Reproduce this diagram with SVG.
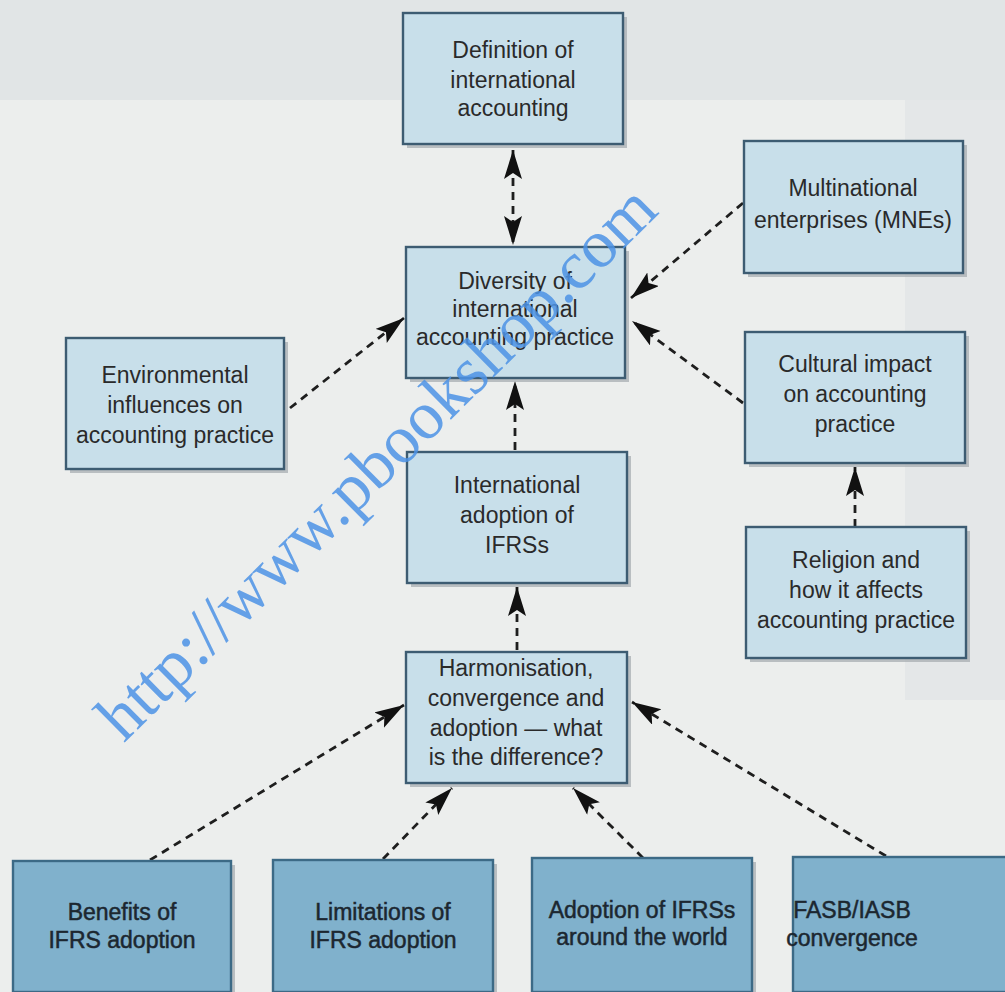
<svg xmlns="http://www.w3.org/2000/svg" width="1005" height="992" viewBox="0 0 1005 992">
<style>
  .bg { fill: #eceeed; }
  .box { fill: #c8dfea; stroke: #3d5c72; stroke-width: 2.4; }
  .dbox { fill: #80b1cc; stroke: #3c6a86; stroke-width: 2.4; }
  .shadow { fill: #a4aaae; opacity: 0.7; }
  .t { font-family: "Liberation Sans", Arial, sans-serif; font-size: 23px; fill: #2a2a2a; text-anchor: middle; }
  .tb { font-family: "Liberation Sans", Arial, sans-serif; font-size: 23px; fill: #1c2730; text-anchor: middle; stroke: #1c2730; stroke-width: 0.5; }
  .c { fill: none; stroke: #1e1e1e; stroke-width: 2.8; stroke-dasharray: 8 6; }
  .wm { font-family: "Liberation Serif", "Times New Roman", serif; font-size: 68px; fill: #4d93e6; opacity: 0.85; }
</style>
<defs>
  <marker id="ah" markerUnits="userSpaceOnUse" markerWidth="32" markerHeight="20" refX="29" refY="9" orient="auto-start-reverse" viewBox="0 0 32 20">
    <path d="M0,0 L29,9 L0,18 L6,9 z" fill="#111"/>
  </marker>
</defs>
<rect class="bg" x="0" y="0" width="1005" height="992"/>
<rect x="0" y="0" width="1005" height="100" fill="#e1e5e6"/>
<rect x="905" y="100" width="100" height="600" fill="#e4e7e8"/>

<g id="connectors">
  <path class="c" d="M513,150 L513,245" marker-start="url(#ah)" marker-end="url(#ah)"/>
  <path class="c" d="M290,408 L404,318" marker-end="url(#ah)"/>
  <path class="c" d="M743,203 L631,298" marker-end="url(#ah)"/>
  <path class="c" d="M743,403 L632,321" marker-end="url(#ah)"/>
  <path class="c" d="M515,450 L515,381" marker-end="url(#ah)"/>
  <path class="c" d="M855,527 L855,467" marker-end="url(#ah)"/>
  <path class="c" d="M517,650 L517,587" marker-end="url(#ah)"/>
  <path class="c" d="M150,860 L404,705" marker-end="url(#ah)"/>
  <path class="c" d="M383,859 L452,788" marker-end="url(#ah)"/>
  <path class="c" d="M643,858 L573,788" marker-end="url(#ah)"/>
  <path class="c" d="M886,856 L632,702" marker-end="url(#ah)"/>
</g>

<g id="node-definition">
  <rect class="shadow" x="407" y="17" width="220" height="131"/>
  <rect class="box" x="403" y="13" width="220" height="131"/>
  <text class="t" x="513" y="58">Definition of</text>
  <text class="t" x="513" y="88">international</text>
  <text class="t" x="513" y="116">accounting</text>
</g>
<g id="node-diversity">
  <rect class="shadow" x="410" y="251" width="219" height="131"/>
  <rect class="box" x="406" y="247" width="219" height="131"/>
  <text class="t" x="515" y="289">Diversity of</text>
  <text class="t" x="515" y="317">international</text>
  <text class="t" x="515" y="345">accounting practice</text>
</g>
<g id="node-environmental">
  <rect class="shadow" x="70" y="342" width="218" height="131"/>
  <rect class="box" x="66" y="338" width="218" height="131"/>
  <text class="t" x="175" y="383">Environmental</text>
  <text class="t" x="175" y="413">influences on</text>
  <text class="t" x="175" y="443">accounting practice</text>
</g>
<g id="node-international-adoption">
  <rect class="shadow" x="411" y="456" width="220" height="131"/>
  <rect class="box" x="407" y="452" width="220" height="131"/>
  <text class="t" x="517" y="493">International</text>
  <text class="t" x="517" y="523">adoption of</text>
  <text class="t" x="517" y="553">IFRSs</text>
</g>
<g id="node-harmonisation">
  <rect class="shadow" x="410" y="656" width="221" height="131"/>
  <rect class="box" x="406" y="652" width="221" height="131"/>
  <text class="t" x="516" y="676">Harmonisation,</text>
  <text class="t" x="516" y="706">convergence and</text>
  <text class="t" x="516" y="736">adoption — what</text>
  <text class="t" x="516" y="765">is the difference?</text>
</g>
<g id="node-mne">
  <rect class="shadow" x="748" y="145" width="219" height="132"/>
  <rect class="box" x="744" y="141" width="219" height="132"/>
  <text class="t" x="853" y="196">Multinational</text>
  <text class="t" x="853" y="228">enterprises (MNEs)</text>
</g>
<g id="node-cultural">
  <rect class="shadow" x="749" y="336" width="220" height="131"/>
  <rect class="box" x="745" y="332" width="220" height="131"/>
  <text class="t" x="855" y="372">Cultural impact</text>
  <text class="t" x="855" y="402">on accounting</text>
  <text class="t" x="855" y="432">practice</text>
</g>
<g id="node-religion">
  <rect class="shadow" x="750" y="531" width="220" height="131"/>
  <rect class="box" x="746" y="527" width="220" height="131"/>
  <text class="t" x="856" y="568">Religion and</text>
  <text class="t" x="856" y="598">how it affects</text>
  <text class="t" x="856" y="628">accounting practice</text>
</g>
<g id="node-benefits">
  <rect class="shadow" x="17" y="865" width="218" height="131"/>
  <rect class="dbox" x="13" y="861" width="218" height="131"/>
  <text class="tb" x="122" y="920">Benefits of</text>
  <text class="tb" x="122" y="948">IFRS adoption</text>
</g>
<g id="node-limitations">
  <rect class="shadow" x="277" y="864" width="220" height="132"/>
  <rect class="dbox" x="273" y="860" width="220" height="132"/>
  <text class="tb" x="383" y="920">Limitations of</text>
  <text class="tb" x="383" y="948">IFRS adoption</text>
</g>
<g id="node-adoption-world">
  <rect class="shadow" x="536" y="862" width="220" height="134"/>
  <rect class="dbox" x="532" y="858" width="220" height="134"/>
  <text class="tb" x="642" y="918">Adoption of IFRSs</text>
  <text class="tb" x="642" y="945">around the world</text>
</g>
<g id="node-fasb">
  <rect class="shadow" x="797" y="861" width="220" height="135"/>
  <rect class="dbox" x="793" y="857" width="220" height="135"/>
  <text class="tb" x="852" y="918">FASB/IASB</text>
  <text class="tb" x="852" y="946">convergence</text>
</g>

<text class="wm" x="0" y="0" text-anchor="middle" transform="translate(392,478) rotate(-44.7)">http://www.pbookshop.com</text>
</svg>
